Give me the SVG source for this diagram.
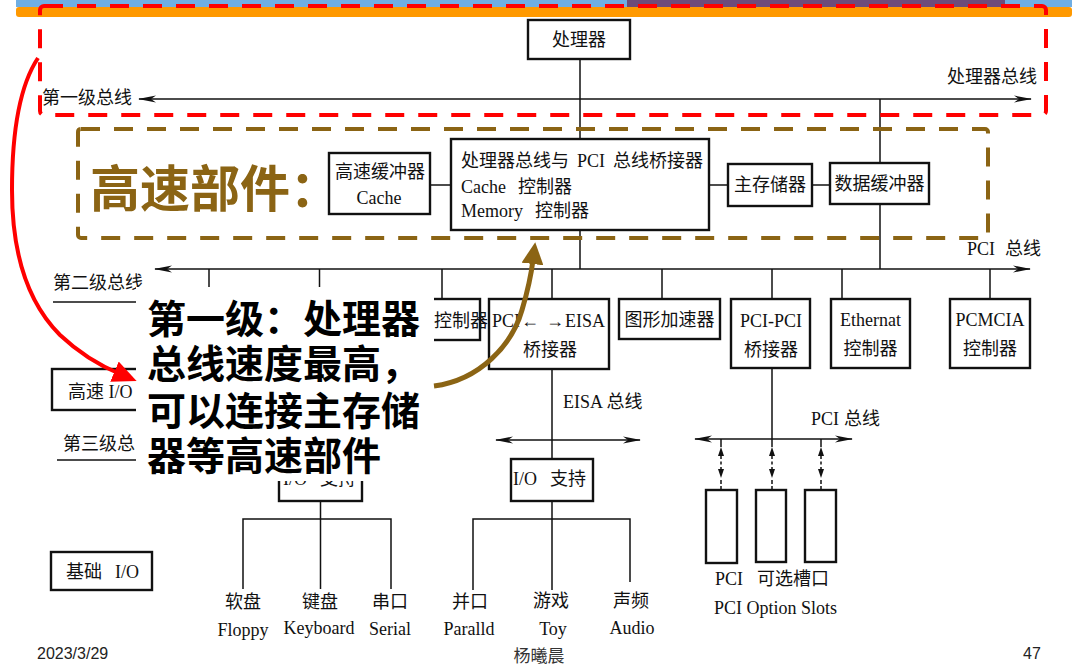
<svg xmlns="http://www.w3.org/2000/svg" width="1092" height="666" viewBox="0 0 1092 666">
<defs>
<style>
.box{fill:#fff;stroke:#111;stroke-width:2.4}
.ln{fill:none;stroke:#111;stroke-width:1.5}
.t{font-family:"Liberation Serif","Noto Sans CJK SC",serif;font-size:18px;fill:#111}
.m{text-anchor:middle}
.big{font-family:"Noto Sans CJK SC","Noto Sans CJK JP",sans-serif;font-weight:bold}
.foot{font-family:"Liberation Sans","Noto Sans CJK SC",sans-serif;font-size:16px;fill:#222}
.dash{fill:none;stroke-width:4;stroke-dasharray:19 14}
</style>
<marker id="bushead" markerUnits="userSpaceOnUse" viewBox="0 0 18 8" refX="17" refY="4" markerWidth="18" markerHeight="8" orient="auto-start-reverse">
<path d="M0,0.5 L18,4 L0,7.5 L5,4 z" fill="#111"/>
</marker>
<marker id="redhead" markerUnits="userSpaceOnUse" viewBox="0 0 24 22" refX="6" refY="11" markerWidth="24" markerHeight="22" orient="auto">
<path d="M0,0 L24,11 L0,22 z" fill="#ff0000"/>
</marker>
<marker id="brownhead" markerUnits="userSpaceOnUse" viewBox="0 0 22 22" refX="4" refY="11" markerWidth="22" markerHeight="22" orient="auto">
<path d="M0,0 L22,11 L0,22 z" fill="#8b6414"/>
</marker>
<g id="slotlink">
<line x1="0" y1="439" x2="0" y2="447" stroke="#111" stroke-width="1.5"/>
<path d="M0,447 L-3,456 L3,456 z" fill="#111"/>
<line x1="0" y1="456" x2="0" y2="469" stroke="#111" stroke-width="1.5" stroke-dasharray="3 2.5"/>
<path d="M0,478 L-3,469 L3,469 z" fill="#111"/>
<line x1="0" y1="480" x2="0" y2="490" stroke="#111" stroke-width="1.5" stroke-dasharray="4 2"/>
</g>
</defs>

<rect width="1092" height="666" fill="#fff"/>

<!-- slide title band -->
<rect x="16" y="0" width="1056" height="7" fill="#6faee3"/>
<rect x="627" y="0" width="378" height="7" fill="#6e4b7a"/>
<rect x="16" y="7" width="1056" height="10" rx="3" fill="#ff9900"/>

<!-- connectors -->
<g id="connectors">
<!-- processor bus -->
<line class="ln" x1="139" y1="99" x2="1031" y2="99" marker-start="url(#bushead)" marker-end="url(#bushead)"/>
<line class="ln" x1="580" y1="59" x2="580" y2="139"/>
<line class="ln" x1="880" y1="99" x2="880" y2="163"/>
<!-- links inside the high-speed group -->
<line class="ln" x1="430" y1="185" x2="451" y2="185"/>
<line class="ln" x1="709" y1="185" x2="728" y2="185"/>
<line class="ln" x1="812" y1="185" x2="830" y2="185"/>
<!-- PCI bus -->
<line class="ln" x1="155" y1="269" x2="1030" y2="269" marker-start="url(#bushead)" marker-end="url(#bushead)"/>
<line class="ln" x1="580" y1="230" x2="580" y2="269"/>
<line class="ln" x1="880" y1="204" x2="880" y2="269"/>
<line class="ln" x1="209" y1="269" x2="209" y2="288"/>
<line class="ln" x1="319.5" y1="269" x2="319.5" y2="288"/>
<line class="ln" x1="442" y1="269" x2="442" y2="299"/>
<line class="ln" x1="552" y1="269" x2="552" y2="299"/>
<line class="ln" x1="662" y1="269" x2="662" y2="299"/>
<line class="ln" x1="772" y1="269" x2="772" y2="299"/>
<line class="ln" x1="842" y1="269" x2="842" y2="299"/>
<line class="ln" x1="990" y1="269" x2="990" y2="299"/>
<!-- EISA bus -->
<line class="ln" x1="552" y1="369" x2="552" y2="459"/>
<line class="ln" x1="496" y1="440" x2="640" y2="440" marker-start="url(#bushead)" marker-end="url(#bushead)"/>
<!-- secondary PCI bus -->
<line class="ln" x1="772" y1="368" x2="772" y2="439"/>
<line class="ln" x1="695" y1="439" x2="852" y2="439" marker-start="url(#bushead)" marker-end="url(#bushead)"/>
<use href="#slotlink" x="721"/>
<use href="#slotlink" x="772"/>
<use href="#slotlink" x="821"/>
<!-- basic I/O tree -->
<path class="ln" d="M320.5,501 V519 M243,589 V519 H391 V589 M320.5,519 V589"/>
<!-- EISA I/O tree -->
<path class="ln" d="M552,501 V519 M473,590 V519 H630 V582 M552,519 V590"/>
</g>

<!-- level markers -->
<rect class="dash" x="40" y="6" width="1006" height="109" rx="4" stroke="#ff0000"/>
<rect class="dash" x="78" y="129" width="910" height="109" rx="3" stroke="#8b6414"/>

<g id="label-level1">
<text class="t" x="42" y="104">第一级总线</text>
<text class="t" x="947" y="83">处理器总线</text>
</g>
<g id="label-highspeed">
<text class="big" x="90" y="207" font-size="50" fill="#8b6414">高速部件：</text>
</g>
<g id="label-pci">
<text class="t" y="255"><tspan x="967">PCI</tspan><tspan x="1005">总线</tspan></text>
</g>
<g id="label-level2">
<text class="t" x="53" y="289">第二级总线</text>
<line class="ln" x1="53" y1="302" x2="150" y2="302"/>
</g>
<g id="label-level3">
<text class="t" x="63" y="450">第三级总</text>
<line class="ln" x1="57" y1="460" x2="150" y2="460"/>
</g>
<g id="label-eisa">
<text class="t" x="563" y="408">EISA 总线</text>
</g>
<g id="label-pci2">
<text class="t" y="425"><tspan x="811">PCI</tspan><tspan x="844">总线</tspan></text>
</g>

<g id="processor">
<rect class="box" x="528" y="20" width="102" height="39"/>
<text class="t m" x="579" y="46">处理器</text>
</g>
<g id="cache">
<rect class="box" x="329" y="153" width="101" height="61"/>
<text class="t m" x="380" y="178">高速缓冲器</text>
<text class="t m" x="379" y="204">Cache</text>
</g>
<g id="bridge">
<rect class="box" x="451" y="139" width="258" height="91"/>
<text class="t" y="167"><tspan x="461">处理器总线与</tspan><tspan x="577">PCI</tspan><tspan x="613">总线桥接器</tspan></text>
<text class="t" y="193"><tspan x="461">Cache</tspan><tspan x="518">控制器</tspan></text>
<text class="t" y="217"><tspan x="461">Memory</tspan><tspan x="535">控制器</tspan></text>
</g>
<g id="memory">
<rect class="box" x="728" y="164" width="84" height="42"/>
<text class="t m" x="770" y="191">主存储器</text>
</g>
<g id="databuffer">
<rect class="box" x="830" y="163" width="99" height="41"/>
<text class="t m" x="879.5" y="190">数据缓冲器</text>
</g>
<g id="ctrl">
<rect class="box" x="400" y="299" width="80" height="41"/>
<text class="t" x="434" y="327">控制器</text>
</g>
<g id="eisabridge">
<rect class="box" x="489" y="299" width="120" height="70"/>
<text class="t" y="327"><tspan x="492">PCI</tspan><tspan x="521">←</tspan><tspan x="546">→</tspan><tspan x="565">EISA</tspan></text>
<text class="t m" x="550" y="356">桥接器</text>
</g>
<g id="graphics">
<rect class="box" x="619" y="299" width="101" height="40"/>
<text class="t m" x="669.5" y="326">图形加速器</text>
</g>
<g id="pcibridge">
<rect class="box" x="731" y="299" width="79" height="69"/>
<text class="t m" x="771" y="327">PCI-PCI</text>
<text class="t m" x="771" y="356">桥接器</text>
</g>
<g id="ethernet">
<rect class="box" x="831" y="299" width="79" height="69"/>
<text class="t m" x="870.5" y="326">Ethernat</text>
<text class="t m" x="870.5" y="355">控制器</text>
</g>
<g id="pcmcia">
<rect class="box" x="950" y="299" width="80" height="69"/>
<text class="t m" x="990" y="326">PCMCIA</text>
<text class="t m" x="990" y="355">控制器</text>
</g>
<g id="highspeedio">
<rect class="box" x="52" y="369" width="110" height="41"/>
<text class="t" x="68" y="398">高速 I/O</text>
</g>
<g id="iosupport1">
<rect class="box" x="279" y="459" width="83" height="42"/>
<text class="t" y="485"><tspan x="283">I/O</tspan><tspan x="320">支持</tspan></text>
</g>
<g id="iosupport2">
<rect class="box" x="511" y="459" width="82" height="42"/>
<text class="t" y="485"><tspan x="513">I/O</tspan><tspan x="550">支持</tspan></text>
</g>
<g id="basicio">
<rect class="box" x="51" y="552" width="101" height="38"/>
<text class="t" y="578"><tspan x="66">基础</tspan><tspan x="115">I/O</tspan></text>
</g>
<g id="slots">
<rect class="box" x="706" y="490" width="31" height="73"/>
<rect class="box" x="756" y="490" width="30" height="72"/>
<rect class="box" x="805" y="490" width="31" height="72"/>
<text class="t" y="585"><tspan x="715">PCI</tspan><tspan x="757">可选槽口</tspan></text>
<text class="t" x="714" y="614">PCI Option Slots</text>
</g>
<g id="devices">
<text class="t m" x="243" y="608">软盘</text>
<text class="t m" x="243" y="636">Floppy</text>
<text class="t m" x="320" y="608">键盘</text>
<text class="t m" x="319" y="634">Keyboard</text>
<text class="t m" x="390" y="608">串口</text>
<text class="t m" x="390" y="635">Serial</text>
<text class="t m" x="470" y="608">并口</text>
<text class="t m" x="469" y="635">Paralld</text>
<text class="t m" x="551" y="607">游戏</text>
<text class="t m" x="553" y="635">Toy</text>
<text class="t m" x="631" y="607">声频</text>
<text class="t m" x="632" y="634">Audio</text>
</g>

<!-- callout -->
<g id="callout">
<rect x="136" y="287" width="298" height="194" fill="#fff"/>
<text class="big" font-size="39" fill="#000"><tspan x="147" y="333">第一级：处理器</tspan><tspan x="147" y="378">总线速度最高，</tspan><tspan x="147" y="425">可以连接主存储</tspan><tspan x="147" y="470">器等高速部件</tspan></text>
</g>
<path d="M38,58 C20,85 12,130 12,190 C12,260 30,305 60,335 C78,352 96,364 120,374" fill="none" stroke="#ff0000" stroke-width="4" marker-end="url(#redhead)"/>
<path d="M434,386 C480,380 512,345 522,310 C528,290 531,276 533,260" fill="none" stroke="#8b6414" stroke-width="5" marker-end="url(#brownhead)"/>

<!-- footer -->
<text class="foot" x="37" y="659">2023/3/29</text>
<text x="539" y="662" font-family="Noto Sans CJK SC,sans-serif" font-size="17" fill="#333" text-anchor="middle">杨曦晨</text>
<text class="foot" x="1023" y="659">47</text>
</svg>
